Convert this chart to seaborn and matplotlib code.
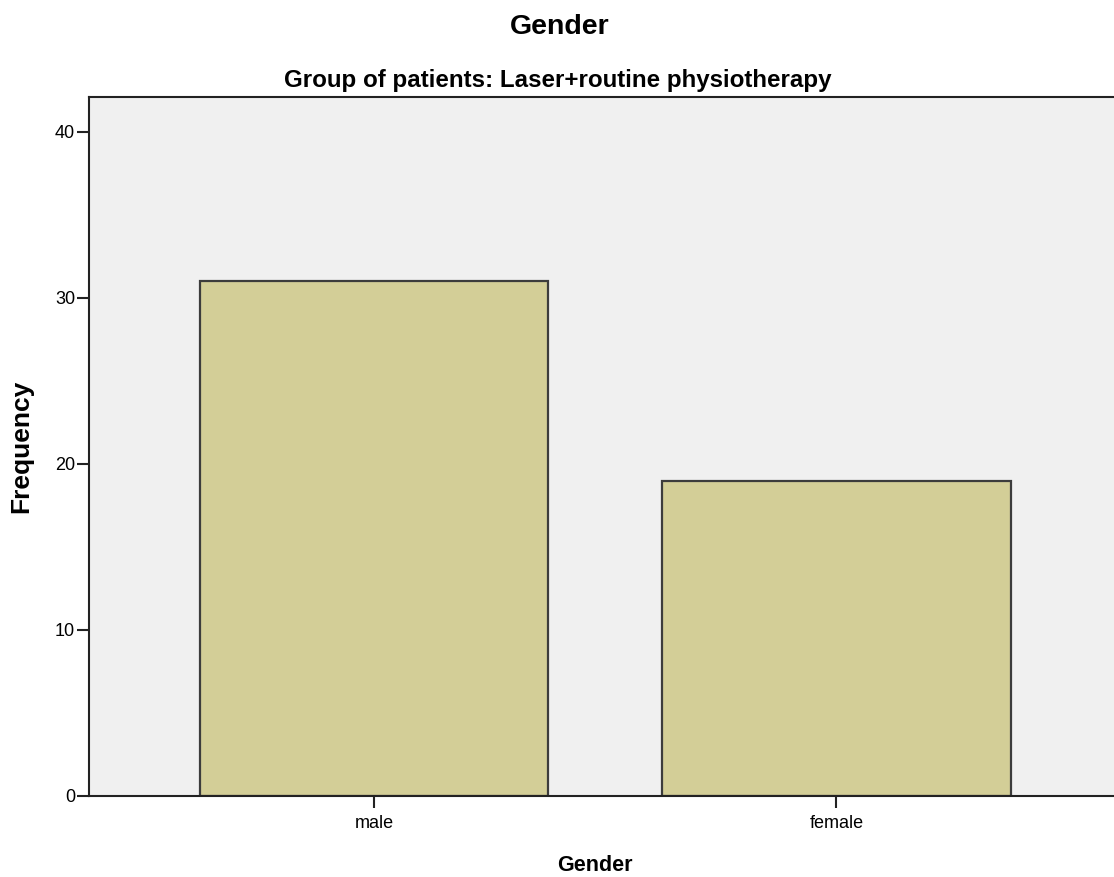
import pandas as pd
import seaborn as sns
import matplotlib.pyplot as plt

# data
genders = ["male", "female"]
counts = [31, 19]
y_ticks = [0, 10, 20, 30, 40]

df = pd.DataFrame({"Gender": genders, "Frequency": counts})

sns.set_style("white")
plt.rcParams["font.family"] = ["Liberation Sans", "DejaVu Sans"]
plt.rcParams["text.color"] = "black"

fig = plt.figure(figsize=(11.14, 8.77), dpi=100)
ax = fig.add_axes([89 / 1114, 81 / 877, 1 - 89 / 1114, 699 / 877])
ax.set_facecolor("#f0f0f0")

sns.barplot(data=df, x="Gender", y="Frequency", color="#d3ce97", width=0.753,
            edgecolor="#3c3c3c", linewidth=1.6, saturation=1, ax=ax)

ax.set_xlim(-0.616, 1.6)
ax.set_ylim(0, 42.1)
ax.set_yticks(y_ticks)
ax.tick_params(axis="both", direction="out", length=8.6, width=1.5, color="#222222",
               labelcolor="black", pad=1.5, bottom=True, left=True)
ax.tick_params(axis="y", labelsize=13)
ax.tick_params(axis="x", labelsize=13, pad=5)

for side in ["left", "bottom", "top"]:
    ax.spines[side].set_color("#222222")
    ax.spines[side].set_linewidth(1.5)
ax.spines["right"].set_visible(False)

ax.set_xlabel("Gender", fontsize=15.5, fontweight="bold", color="black")
ax.xaxis.set_label_coords(0.494, -0.085)
ax.set_ylabel("Frequency", fontsize=19, fontweight="bold", color="black")
ax.yaxis.set_label_coords(-0.0546, 0.5)

fig.text(0.502, 1 - 27 / 877, "Gender", ha="center", va="center",
         fontsize=20.5, fontweight="bold")
fig.text(0.501, 1 - 80 / 877, "Group of patients: Laser+routine physiotherapy",
         ha="center", va="center", fontsize=17.4, fontweight="bold")

fig.savefig("out.png", dpi=100, facecolor="white")
